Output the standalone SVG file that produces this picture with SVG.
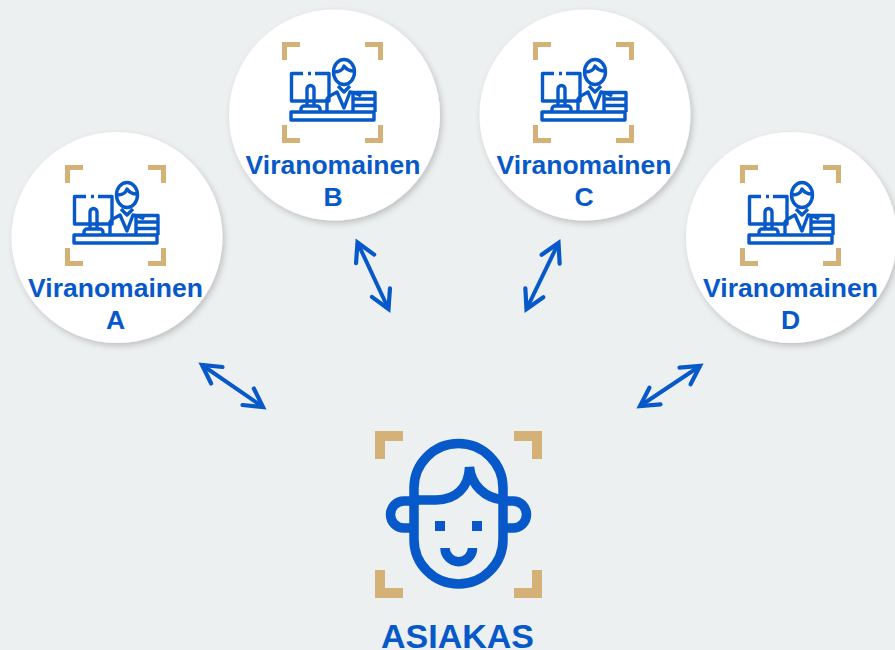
<svg xmlns="http://www.w3.org/2000/svg" width="895" height="650" viewBox="0 0 895 650">
<style>
.label{font-family:"Liberation Sans",Arial,sans-serif;font-weight:700;fill:#0759c9;text-anchor:middle;font-size:26.500px}
.big{font-size:34px}
.disc{fill:#fff;filter:url(#sh)}
.ln{fill:none;stroke:#0759c9;stroke-width:3.400;stroke-linejoin:round}
.br{fill:none;stroke:#d4b277;stroke-width:5}
.face{fill:none;stroke:#0759c9;stroke-width:9.500}
.gold{fill:none;stroke:#d4b277;stroke-width:10}
.arr{fill:none;stroke:#0759c9;stroke-width:4;marker-start:url(#ah);marker-end:url(#ah)}
</style>
<defs>
<filter id="sh" x="-10%" y="-10%" width="125%" height="125%"><feDropShadow dx="2" dy="3" stdDeviation="3" flood-color="#000" flood-opacity="0.2"/></filter>
<marker id="ah" markerUnits="userSpaceOnUse" viewBox="-25 -15 30 30" markerWidth="30" markerHeight="30" refX="0" refY="0" orient="auto-start-reverse">
<path d="M-18,-10 L0,0 L-18,10" fill="none" stroke="#0759c9" stroke-width="4.200" stroke-linecap="round" stroke-miterlimit="10"/>
</marker>
<g id="icon">
<path class="br" d="M284.500,60V44.500H300M365,44.500H380.500V60M284.500,125V140.500H300M365,140.500H380.500V125"/>
<path class="ln" d="M303,73.500H291.500V101H329V73.500H315M308,73.500H311"/>
<path class="ln" d="M307,106V89a3.500,3.500 0 0 1 7,0V106M301,112V109a3,3 0 0 1 3,-3H317a3,3 0 0 1 3,3V112"/>
<rect class="ln" x="291" y="112" width="83" height="8"/>
<ellipse class="ln" cx="344" cy="72" rx="10.500" ry="12.500"/>
<path class="ln" d="M334,72C340,72 343,69 344,66C346,69 350,71 354,71"/>
<path class="ln" d="M327,112V99C329,95 334,94 337,92L344,108L350,92C355,93 358,94 361,96"/>
<path class="ln" d="M338,86L344,92L350,86"/>
<path class="ln" d="M353,112V92.500H375V112M353,99H375M353,105.500H375"/>
</g>
</defs>
<rect width="895" height="650" fill="#edf0f1"/>
<g id="connectors">
<path class="arr" d="M202,365L263,407"/>
<path class="arr" d="M357.500,242.500L388.500,309"/>
<path class="arr" d="M558.500,243L526.500,309"/>
<path class="arr" d="M700,366L640,406"/>
</g>
<g id="node-a">
<circle class="disc" cx="117" cy="237.500" r="105.500"/>
<use href="#icon" transform="translate(-217,123)"/>
<text class="label" x="115.500" y="297">Viranomainen</text>
<text class="label" x="115.500" y="329">A</text>
</g>
<g id="node-b">
<circle class="disc" cx="334.500" cy="115" r="105.500"/>
<use href="#icon"/>
<text class="label" x="333" y="174">Viranomainen</text>
<text class="label" x="333" y="206">B</text>
</g>
<g id="node-c">
<circle class="disc" cx="585" cy="115" r="105.500"/>
<use href="#icon" transform="translate(251,0)"/>
<text class="label" x="584" y="174">Viranomainen</text>
<text class="label" x="584" y="206">C</text>
</g>
<g id="node-d">
<circle class="disc" cx="791.500" cy="237.500" r="105.500"/>
<use href="#icon" transform="translate(458,123)"/>
<text class="label" x="790.500" y="297">Viranomainen</text>
<text class="label" x="790.500" y="329">D</text>
</g>
<g id="node-asiakas">
<path class="gold" d="M380,459V436H403M514,436H537V459M380,570V593H403M514,593H537V570"/>
<path class="face" d="M414,501V488a44.500,44.500 0 0 1 89,0V539.500a44.500,44.500 0 0 1 -89,0V501"/>
<path class="face" d="M414,500H436C455,500 469,488 469.500,467C471,485 485,498 503,500"/>
<path class="face" d="M414,501H404a13.500,13.500 0 0 0 0,27H414M503,501H513a13.500,13.500 0 0 1 0,27H503"/>
<rect x="435" y="521" width="10" height="10" fill="#0759c9"/>
<rect x="472" y="521" width="10" height="10" fill="#0759c9"/>
<path class="face" d="M445,548a13.750,13.750 0 0 0 27.500,0"/>
<text class="label big" x="457.500" y="648">ASIAKAS</text>
</g>
</svg>
